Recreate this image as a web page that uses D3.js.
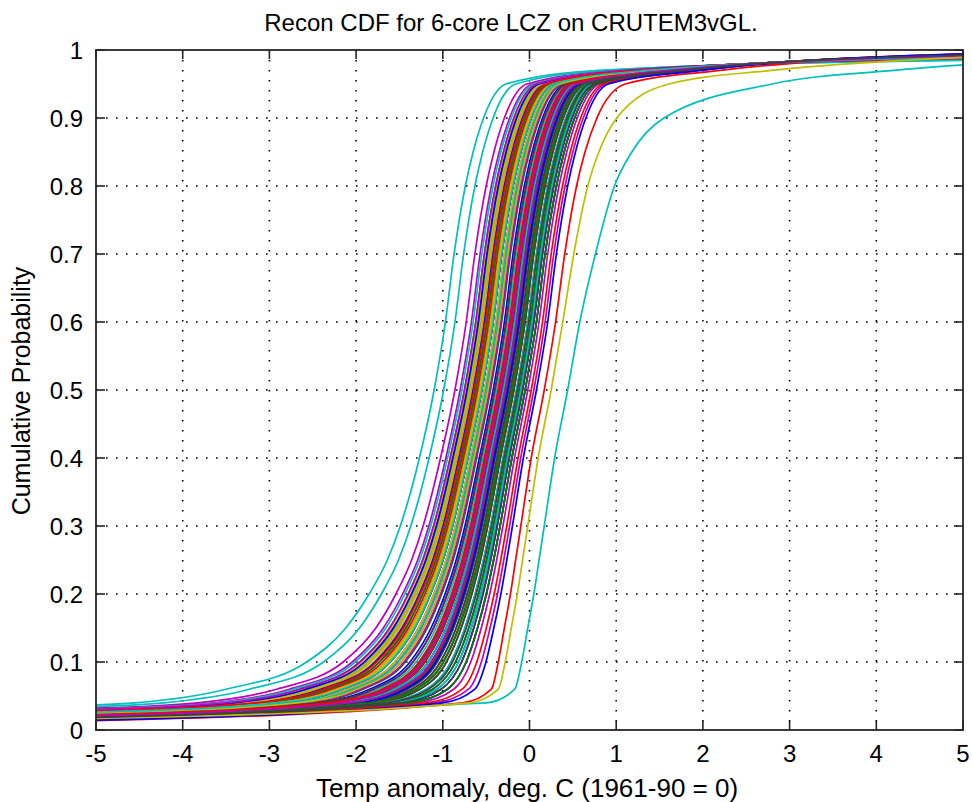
<!DOCTYPE html>
<html>
<head>
<meta charset="utf-8">
<script src="https://cdn.jsdelivr.net/npm/d3@7"></script>
<style>
  body { margin: 0; background: #fff; }
  text { font-family: "Liberation Sans", Arial, Helvetica, sans-serif; fill: #000; }
</style>
</head>
<body>
<svg id="chart" width="972" height="802"></svg>
<script>
// axis ticks
const xTicks = [-5, -4, -3, -2, -1, 0, 1, 2, 3, 4, 5];
const xTickLabels = ["-5", "-4", "-3", "-2", "-1", "0", "1", "2", "3", "4", "5"];
const yTicks = [0, 0.1, 0.2, 0.3, 0.4, 0.5, 0.6, 0.7, 0.8, 0.9, 1];
const yTickLabels = ["0", "0.1", "0.2", "0.3", "0.4", "0.5", "0.6", "0.7", "0.8", "0.9", "1"];

// matlab colour order (b g r c m y k)
const lineColors = ["#0000ff", "#008000", "#ff0000", "#00bfbf", "#bf00bf", "#bfbf00", "#404040"];

// probability levels at which the two outer curves were read
const probLevels = [0.04, 0.06, 0.1, 0.15, 0.2, 0.25, 0.3, 0.4, 0.5, 0.6, 0.7, 0.8, 0.85, 0.9, 0.95, 0.97];
// x of the leftmost (cyan) curve at each level
const leftmostCurve = [-4.55, -3.5, -2.57, -2.12, -1.85, -1.64, -1.49, -1.27, -1.1, -0.97, -0.87, -0.74, -0.65, -0.53, -0.27, 0.8];
// x of the rightmost (cyan) curve at each level
const rightmostCurve = [-0.5, -0.17, -0.09, -0.02, 0.05, 0.11, 0.17, 0.29, 0.44, 0.58, 0.76, 0.98, 1.18, 1.55, 2.8, 4.2];

// x where each curve crosses 0.5, in plotting order (colours cycle b g r c m y k)
const medians = [
  -0.42, -0.30, -0.55, -1.10, -0.86, -0.62, -0.20,
  -0.35, -0.22, -0.48, -0.99, -0.80, -0.66, -0.28,
  -0.58, -0.75, -0.05, -0.38, -0.72, -0.58, -0.15,
  -0.05, -0.25, -0.40, -0.70, -0.68, -0.64, -0.32,
  -0.50, -0.70, -0.33,  0.44,  0.05, -0.60, -0.24,
  -0.12, -0.18, -0.52, -0.62, -0.40, -0.70, -0.10,
  -0.65, -0.45, -0.27, -0.20, -0.55, -0.57, -0.36,
  -0.30, -0.12, -0.60, -0.78, -0.02, -0.52, -0.22,
  -0.08, -0.35,  0.17, -0.10, -0.62, -0.74, -0.18,
  -0.55, -0.62, -0.20, -0.30, -0.46, -0.56, -0.26,
  -0.25, -0.05,  0.02, -0.50, -0.34, -0.68, -0.40,
  -0.72, -0.28, -0.36, -0.15, -0.75, -0.48, -0.08,
   0.08, -0.20, -0.64, -0.55, -0.28,  0.25, -0.14
];

// x where curves have neither tail long
const pivot = 0.15;
// cdf at x=-5 (short tail, long tail) and at x=5 (short tail, long tail)
const lowTailRange = [0.013, 0.037];
const highTailRange = [0.995, 0.978];

const margin = {top: 50, right: 9, bottom: 72, left: 96};
const width = 972 - margin.left - margin.right;
const height = 802 - margin.top - margin.bottom;

const svg = d3.select("#chart");
const g = svg.append("g").attr("transform", `translate(${margin.left},${margin.top})`);

const x = d3.scaleLinear().domain([-5, 5]).range([0, width]);
const y = d3.scaleLinear().domain([0, 1]).range([height, 0]);

// grid
g.append("g").selectAll("line")
    .data(xTicks.slice(1, -1))
    .enter().append("line")
    .attr("x1", d => x(d)).attr("x2", d => x(d))
    .attr("y1", 0).attr("y2", height)
    .attr("stroke", "#000").attr("stroke-width", 1.6)
    .attr("stroke-dasharray", "1.6,8.4");
g.append("g").selectAll("line")
    .data(yTicks.slice(1, -1))
    .enter().append("line")
    .attr("x1", 0).attr("x2", width)
    .attr("y1", d => y(d)).attr("y2", d => y(d))
    .attr("stroke", "#000").attr("stroke-width", 1.6)
    .attr("stroke-dasharray", "1.6,8.4");

// shape templates (offsets from the median)
const mid = probLevels.indexOf(0.5);
const leftMed = leftmostCurve[mid], rightMed = rightmostCurve[mid];
const longLow = leftmostCurve.map(v => v - leftMed);
const sharpUp = longLow;
const longUp = rightmostCurve.map(v => v - rightMed);
const sharpLow = longUp;

const leftSkew = d3.scaleLinear().domain([pivot, leftMed]).range([0, 1]).clamp(true);
const rightSkew = d3.scaleLinear().domain([pivot, rightMed]).range([0, 1]).clamp(true);

const curves = medians.map((m, i) => {
  const a = leftSkew(m), b = rightSkew(m);
  const pts = [[-5, d3.interpolateNumber(lowTailRange[0], lowTailRange[1])(Math.max(a, 0.5 * b))]];
  probLevels.forEach((p, k) => {
    let off = 0;
    if (p < 0.5) off = d3.interpolateNumber(sharpLow[k], longLow[k])(a);
    else if (p > 0.5) off = d3.interpolateNumber(sharpUp[k], longUp[k])(b);
    pts.push([m + off, p]);
  });
  pts.push([5, d3.interpolateNumber(highTailRange[0], highTailRange[1])(Math.max(b, 0.6 * a))]);
  return {pts, color: lineColors[i % lineColors.length]};
});

const line = d3.line()
    .x(d => x(d[0]))
    .y(d => y(d[1]))
    .curve(d3.curveMonotoneX);

g.append("g").selectAll("path")
    .data(curves)
    .enter().append("path")
    .attr("d", d => line(d.pts))
    .attr("fill", "none")
    .attr("stroke", d => d.color)
    .attr("stroke-width", 1.7);

// box + inward ticks on all sides
const tickLen = 9;
const axisColor = "#262626";
g.append("rect")
    .attr("width", width).attr("height", height)
    .attr("fill", "none").attr("stroke", axisColor).attr("stroke-width", 1.8);

const ticks = g.append("g").attr("stroke", axisColor).attr("stroke-width", 1.6);
xTicks.forEach(t => {
  ticks.append("line").attr("x1", x(t)).attr("x2", x(t)).attr("y1", height).attr("y2", height - tickLen);
  ticks.append("line").attr("x1", x(t)).attr("x2", x(t)).attr("y1", 0).attr("y2", tickLen);
});
yTicks.forEach(t => {
  ticks.append("line").attr("x1", 0).attr("x2", tickLen).attr("y1", y(t)).attr("y2", y(t));
  ticks.append("line").attr("x1", width).attr("x2", width - tickLen).attr("y1", y(t)).attr("y2", y(t));
});

// tick labels
g.append("g").selectAll("text")
    .data(xTicks)
    .enter().append("text")
    .attr("x", d => x(d))
    .attr("y", height + 32)
    .attr("text-anchor", "middle")
    .style("font-size", "24px")
    .text((d, i) => xTickLabels[i]);

g.append("g").selectAll("text")
    .data(yTicks)
    .enter().append("text")
    .attr("x", -13)
    .attr("y", d => y(d))
    .attr("dy", "0.36em")
    .attr("text-anchor", "end")
    .style("font-size", "24px")
    .text((d, i) => yTickLabels[i]);

// titles
svg.append("text")
    .attr("x", 511).attr("y", 31)
    .attr("text-anchor", "middle")
    .style("font-size", "24px")
    .text("Recon CDF for 6-core LCZ on CRUTEM3vGL.");

svg.append("text")
    .attr("x", 527).attr("y", 797)
    .attr("text-anchor", "middle")
    .style("font-size", "26px")
    .text("Temp anomaly, deg. C (1961-90 = 0)");

svg.append("text")
    .attr("transform", "translate(30,391) rotate(-90)")
    .attr("text-anchor", "middle")
    .style("font-size", "25px")
    .text("Cumulative Probability");
</script>
</body>
</html>
